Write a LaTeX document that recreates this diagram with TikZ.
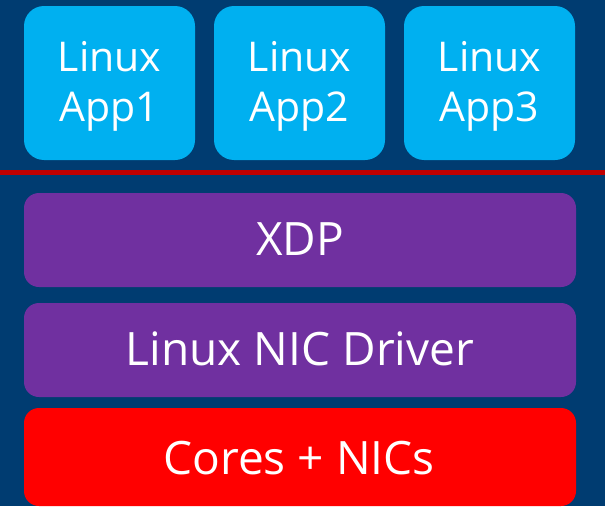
\documentclass[tikz,border=0pt]{standalone}
\usepackage{fontspec}
\setmainfont{Open Sans}
\definecolor{bgblue}{HTML}{003C71}
\definecolor{appblue}{HTML}{00B0F0}
\definecolor{xpurple}{HTML}{7030A0}
\definecolor{corered}{HTML}{FF0000}
\definecolor{linered}{HTML}{C00000}
\tikzset{
  appbox/.style={fill=appblue, draw=none, rounded corners=20pt},
  barbox/.style={fill=xpurple, draw=none, rounded corners=15pt},
  redbox/.style={fill=corered, draw=none, rounded corners=15pt},
  apptext/.style={text=white, font=\fontsize{41}{50}\selectfont, align=center, inner sep=0pt},
  bartext/.style={text=white, font=\fontsize{46}{54}\selectfont, inner sep=0pt, anchor=base},
}
\begin{document}
\begin{tikzpicture}[x=1pt,y=-1pt]
\fill[bgblue] (0,0) rectangle (605,506);
\useasboundingbox (0,0) rectangle (605,506);
% apps
\path[appbox] (24,6) rectangle (195,160);
\path[appbox] (214,6) rectangle (385,160);
\path[appbox] (404,6) rectangle (575,160);
\node[apptext, anchor=base] (a1l) at (109.5,71.7) {Linux};
\node[apptext, anchor=base] (a1a) at (109.5,121.7) {App1};
\node[apptext, anchor=base] (a2l) at (299.5,71.7) {Linux};
\node[apptext, anchor=base] (a2a) at (299.5,121.7) {App2};
\node[apptext, anchor=base] (a3l) at (489.5,71.7) {Linux};
\node[apptext, anchor=base] (a3a) at (489.5,121.7) {App3};
% separator
\draw[linered, line width=4.5pt] (0,172.5) -- (605,172.5);
% bars
\path[barbox] (24,193) rectangle (576,287);
\path[barbox] (24,303) rectangle (576,397);
\path[redbox] (24,408) rectangle (576,506);
\node[bartext] (xdp) at (300,255) {XDP};
\node[bartext] (nic) at (300,365) {Linux NIC Driver};
\node[bartext] (core) at (299,474) {Cores + NICs};
\end{tikzpicture}
\end{document}
